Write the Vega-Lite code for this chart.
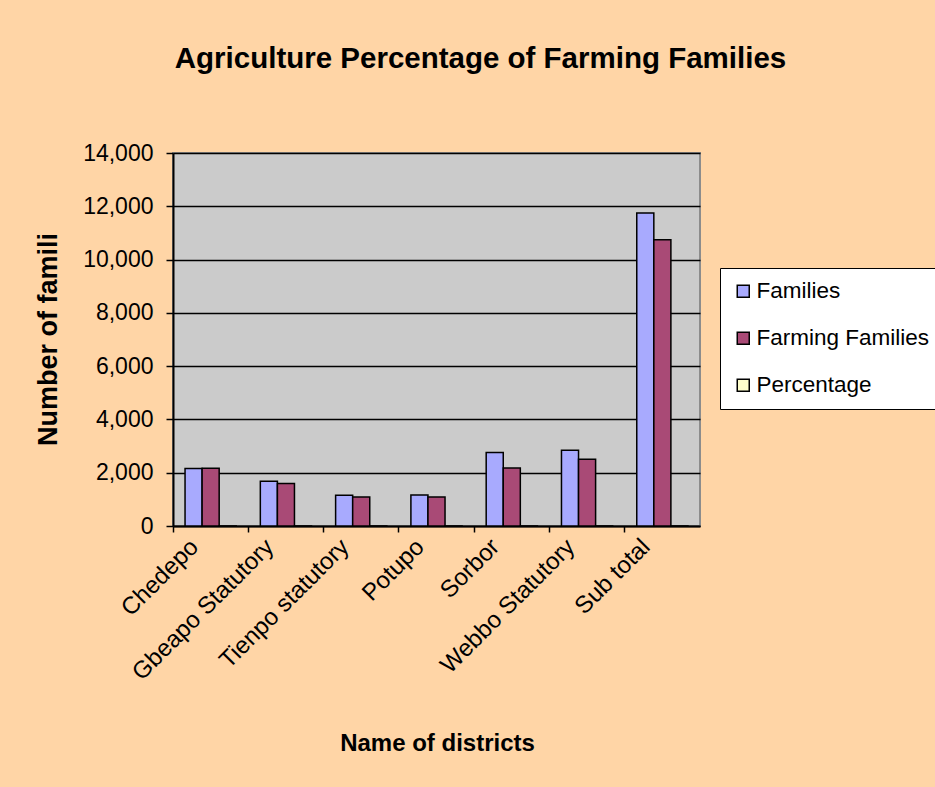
{
  "$schema": "https://vega.github.io/schema/vega-lite/v6.json",
  "autosize": {"type": "none"},
  "width": 527,
  "height": 373,
  "padding": {"left": 173, "top": 153, "right": 235, "bottom": 261},
  "background": "#FFD5A6",
  "title": {
    "text": "Agriculture Percentage of Farming Families",
    "font": "Liberation Sans",
    "fontSize": 29.5,
    "fontWeight": "bold",
    "color": "#000000",
    "anchor": "middle",
    "dx": 44,
    "offset": 68
  },
  "data": {
    "values": [
      {"district": "Chedepo", "series": "Families", "value": 2160},
      {"district": "Chedepo", "series": "Farming Families", "value": 2170},
      {"district": "Chedepo", "series": "Percentage", "value": 1.0},
      {"district": "Gbeapo Statutory", "series": "Families", "value": 1680},
      {"district": "Gbeapo Statutory", "series": "Farming Families", "value": 1595},
      {"district": "Gbeapo Statutory", "series": "Percentage", "value": 0.95},
      {"district": "Tienpo statutory", "series": "Families", "value": 1155},
      {"district": "Tienpo statutory", "series": "Farming Families", "value": 1090},
      {"district": "Tienpo statutory", "series": "Percentage", "value": 0.94},
      {"district": "Potupo", "series": "Families", "value": 1165},
      {"district": "Potupo", "series": "Farming Families", "value": 1090},
      {"district": "Potupo", "series": "Percentage", "value": 0.94},
      {"district": "Sorbor", "series": "Families", "value": 2760},
      {"district": "Sorbor", "series": "Farming Families", "value": 2180},
      {"district": "Sorbor", "series": "Percentage", "value": 0.79},
      {"district": "Webbo Statutory", "series": "Families", "value": 2845},
      {"district": "Webbo Statutory", "series": "Farming Families", "value": 2510},
      {"district": "Webbo Statutory", "series": "Percentage", "value": 0.88},
      {"district": "Sub total", "series": "Families", "value": 11745},
      {"district": "Sub total", "series": "Farming Families", "value": 10740},
      {"district": "Sub total", "series": "Percentage", "value": 0.91}
    ]
  },
  "mark": {"type": "bar", "stroke": "#000000", "strokeWidth": 1.5},
  "encoding": {
    "x": {
      "field": "district",
      "type": "nominal",
      "sort": null,
      "scale": {"paddingInner": 0.32, "paddingOuter": 0.16},
      "axis": {
        "title": "Name of districts",
        "titleFont": "Liberation Sans",
        "titleFontSize": 24,
        "titleFontWeight": "bold",
        "titleColor": "#000000",
        "titleX": 264,
        "titleY": 224,
        "titleBaseline": "alphabetic",
        "labelAngle": -45,
        "labelAlign": "right",
        "labelBaseline": "middle",
        "labelFont": "Liberation Sans",
        "labelFontSize": 24,
        "labelColor": "#000000",
        "labelOffset": -16,
        "labelPadding": 11,
        "labelLimit": 300,
        "bandPosition": -0.235,
        "domainColor": "#000000",
        "domainWidth": 2,
        "tickColor": "#000000",
        "tickWidth": 1.5,
        "tickSize": 6,
        "grid": false
      }
    },
    "xOffset": {"field": "series", "type": "nominal", "scale": {"paddingInner": 0, "paddingOuter": 0}},
    "y": {
      "field": "value",
      "type": "quantitative",
      "scale": {"domain": [0, 14000], "nice": false},
      "axis": {
        "title": "Number of famili",
        "titleFont": "Liberation Sans",
        "titleFontSize": 27,
        "titleFontWeight": "bold",
        "titleColor": "#000000",
        "titleX": -125,
        "titleY": 186,
        "titleAngle": -90,
        "titleAlign": "center",
        "titleBaseline": "middle",
        "values": [0, 2000, 4000, 6000, 8000, 10000, 12000, 14000],
        "format": ",d",
        "labelFont": "Liberation Sans",
        "labelFontSize": 23,
        "labelColor": "#000000",
        "labelPadding": 13,
        "domainColor": "#000000",
        "domainWidth": 2,
        "tickColor": "#000000",
        "tickWidth": 1.5,
        "tickSize": 7,
        "grid": true,
        "gridColor": "#000000",
        "gridWidth": 1.5
      }
    },
    "color": {
      "field": "series",
      "type": "nominal",
      "scale": {
        "domain": ["Families", "Farming Families", "Percentage"],
        "range": ["#A8AAFE", "#A94A76", "#FFFFCC"]
      },
      "legend": {
        "title": null,
        "orient": "none",
        "legendX": 547,
        "legendY": 115,
        "fillColor": "#FFFFFF",
        "strokeColor": "#000000",
        "padding": 12,
        "symbolType": "square",
        "symbolSize": 144,
        "symbolStrokeColor": "#000000",
        "symbolStrokeWidth": 1.5,
        "labelFont": "Liberation Sans",
        "labelFontSize": 22.5,
        "labelColor": "#000000",
        "labelOffset": 2,
        "rowPadding": 24,
        "labelLimit": 300
      }
    }
  },
  "config": {
    "view": {"fill": "#CBCBCB", "stroke": "#8C8C8C", "strokeWidth": 2},
    "axis": {"gridCap": "butt"}
  }
}
